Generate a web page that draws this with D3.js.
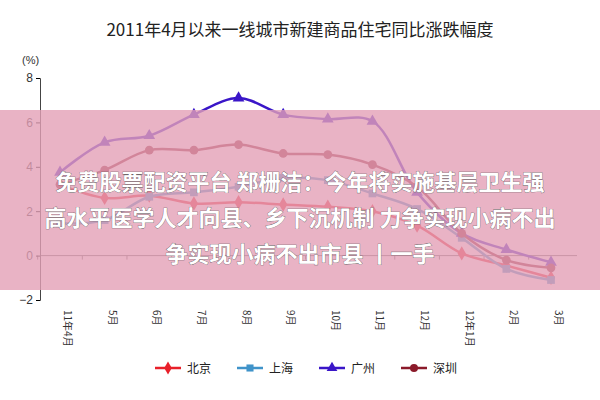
<!DOCTYPE html><html><head><meta charset="utf-8"><script src="https://d3js.org/d3.v7.min.js"></script>
<style>body{margin:0;background:#fff}</style></head><body><svg width="600" height="400"></svg><script>
const months=["11年4月","5月","6月","7月","8月","9月","10月","11月","12月","12年1月","2月","3月"];
const beijing=[3.2,2.6,2.7,2.35,2.4,2.3,2.2,2.0,1.35,0.1,-0.45,-1.0];
const shanghai=[1.45,1.6,2.65,2.85,3.1,3.5,3.4,2.8,2.1,0.8,-0.6,-1.1];
const guangzhou=[3.75,5.1,5.4,6.35,7.1,6.35,6.15,6.05,2.85,1.0,0.27,-0.3];
const shenzhen=[3.2,3.85,4.75,4.75,5.0,4.6,4.55,4.1,3.1,1.0,-0.2,-0.55];
const yTicks=[-2,0,2,4,6,8];
const series=[{n:"北京",d:beijing,c:"#e8202a",s:d3.symbolDiamond},{n:"上海",d:shanghai,c:"#3f93c9",s:d3.symbolSquare},{n:"广州",d:guangzhou,c:"#3a16c8",s:d3.symbolTriangle},{n:"深圳",d:shenzhen,c:"#8b1a2a",s:d3.symbolCircle}];
const svg=d3.select("svg");
const F="'Noto Sans CJK SC',sans-serif";
svg.append("text").attr("x",300).attr("y",36).attr("text-anchor","middle").attr("font-family",F).attr("font-size",17).attr("fill","#222").text("2011年4月以来一线城市新建商品住宅同比涨跌幅度");
const x=d3.scalePoint().domain(months).range([60,551]);
const y=d3.scaleLinear().domain([-2,8]).range([300,78]);
const bw=x.step();
// x axis at 0
svg.append("line").attr("x1",40).attr("x2",577).attr("y1",y(0)).attr("y2",y(0)).attr("stroke","#666");
months.forEach((m,i)=>{svg.append("line").attr("x1",x(m)-bw/2).attr("x2",x(m)-bw/2).attr("y1",y(0)).attr("y2",y(0)+4).attr("stroke","#666");
 svg.append("text").attr("transform",`translate(${x(m)+4},${310}) rotate(90)`).attr("font-family",F).attr("font-size",10).attr("fill","#333").text(m);});
const ya=svg.append("g").attr("transform","translate(40,0)").call(d3.axisLeft(y).tickValues(yTicks).tickSize(4).tickFormat(d3.format("d")));
ya.select(".domain").attr("stroke","#444");ya.selectAll("text").attr("font-size",12).attr("fill","#333").attr("font-family","Arial");
svg.append("text").attr("x",22).attr("y",64).attr("font-size",11).attr("fill","#333").attr("font-family","Arial").text("(%)");
const line=d3.line().x((d,i)=>x(months[i])).y(d=>y(d)).curve(d3.curveCatmullRom);
series.forEach(s=>{svg.append("path").attr("d",line(s.d)).attr("fill","none").attr("stroke",s.c).attr("stroke-width",2.5);
 s.d.forEach((v,i)=>svg.append("path").attr("d",d3.symbol().type(s.s).size(60)()).attr("transform",`translate(${x(months[i])},${y(v)})`).attr("fill",s.c));});
// legend
series.forEach((s,i)=>{const lx=155+i*82;const g=svg.append("g");
 g.append("line").attr("x1",lx).attr("x2",lx+26).attr("y1",368).attr("y2",368).attr("stroke",s.c).attr("stroke-width",2.5);
 g.append("path").attr("d",d3.symbol().type(s.s).size(50)()).attr("transform",`translate(${lx+13},368)`).attr("fill",s.c);
 g.append("text").attr("x",lx+32).attr("y",373).attr("font-family",F).attr("font-size",12).attr("fill","#222").text(s.n);});
// overlay banner
svg.append("rect").attr("x",0).attr("y",110).attr("width",600).attr("height",180).attr("fill","#e3a0b6").attr("opacity",0.8);
const bt=[["免费股票配资平台 郑栅洁：今年将实施基层卫生强",300,190],["高水平医学人才向县、乡下沉机制 力争实现小病不出",300,226],["争实现小病不出市县 丨一手",300,262]];
bt.forEach(b=>svg.append("text").attr("x",b[1]).attr("y",b[2]).attr("text-anchor","middle").attr("font-family",F).attr("font-weight","bold").attr("font-size",22).attr("fill","#fff").attr("stroke","#555").attr("stroke-width",0.6).attr("paint-order","stroke").text(b[0]));
</script></body></html>
